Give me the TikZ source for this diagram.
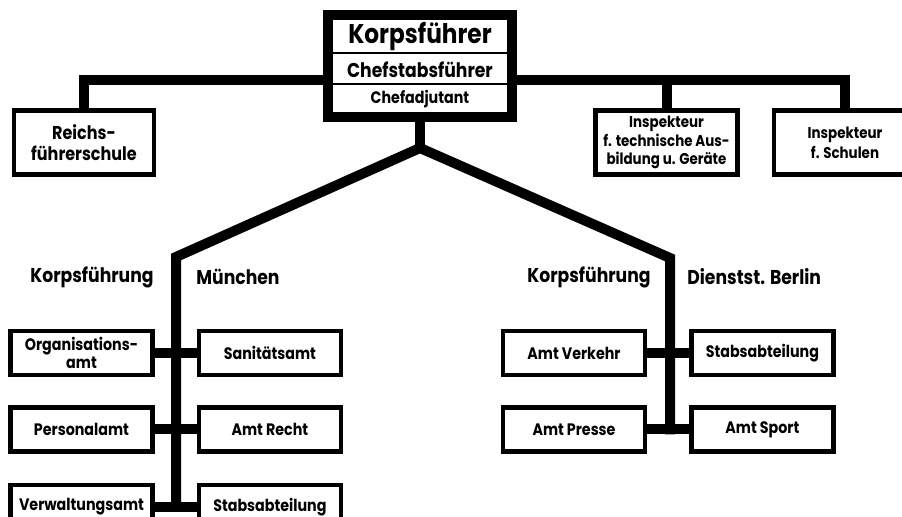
\documentclass[tikz,border=0pt]{standalone}
\usepackage{fontspec}
\newfontfamily\chartfont{Poppins}[FakeStretch=0.86]
\usetikzlibrary{
  backgrounds,
  calc,
  positioning
}
\tikzset{
  every picture/.style = {line join=miter},
  every node/.style = {font=\chartfont\bfseries\fontsize{8.3}{9}\selectfont, align=center, inner sep=1pt},
  office/.style = {
    draw=black,
    fill=white,
    line width=2.2pt,
    minimum width=71pt,
    minimum height=22pt,
    inner sep=0pt
  },
  office tall/.style = {office, minimum height=32pt},
  chief box/.style = {
    draw=black,
    fill=white,
    line width=5pt,
    minimum width=92pt,
    minimum height=51pt
  },
  chief rank/.style = {font=\chartfont\bfseries\fontsize{#1}{#1}\selectfont, inner sep=0pt},
  seat label/.style = {font=\chartfont\bfseries\fontsize{10}{12}\selectfont},
  trunk/.style = {draw=black, line width=5pt, line cap=rect},
  divider/.style = {draw=black, line width=1pt},
}

\begin{document}
\begin{tikzpicture}[x=0.5pt,y=-0.5pt]
  \clip (0,0) rectangle (902,517);

  % top of the chart
  \node[chief box] (korps) at (420,66) {};
  \node[chief rank=13.5] (kf) at (420,37) {Korpsführer};
  \node[chief rank=10] (csf) at (420,70) {Chefstabsführer};
  \node[chief rank=8.3] (cadj) at (420,99) {Chefadjutant};
  \path ($(kf)!0.5!(csf)$) coordinate (cut1);
  \path ($(csf)!0.5!(cadj)$) coordinate (cut2);
  \draw[divider] (korps.west|-cut1) -- (korps.east|-cut1);
  \draw[divider] (korps.west|-cut2) -- (korps.east|-cut2);

  \node[office tall, minimum width=70pt, font=\chartfont\bfseries\fontsize{9.3}{10.5}\selectfont] (reichs) at (84,142.5) {Reichs-\\führerschule};
  \node[office tall, font=\chartfont\bfseries\fontsize{7.8}{9.2}\selectfont] (insptech) at (666.5,142.5) {Inspekteur\\f. technische Aus-\\bildung u. Geräte};
  \node[office tall, font=\chartfont\bfseries\fontsize{7.8}{10}\selectfont] (inspschul) at (845,142.5) {Inspekteur\\f. Schulen};
  \coordinate (hbar) at (420,80);
  \coordinate (fork) at (420,148);

  % Muenchen
  \node[seat label, anchor=east] (kfmuc) at (156,277) {Korpsführung};
  \node[seat label, anchor=west] (muc) at (194,277) {München};
  \node[office] (orga) at (81.5,353) {Organisations-\\amt};
  \node[office, right=21pt of orga] (sani) {Sanitätsamt};
  \node[office, below=14pt of orga] (pers) {Personalamt};
  \node[office, right=21pt of pers] (recht) {Amt Recht};
  \node[office, below=14.5pt of pers] (verw) {Verwaltungsamt};
  \node[office, right=21pt of verw] (stabmuc) {Stabsabteilung};
  \coordinate (mucbend) at (176,257);

  % Berlin
  \node[seat label, anchor=east] (kfber) at (653,277) {Korpsführung};
  \node[seat label, anchor=west] (ber) at (685,277) {Dienstst. Berlin};
  \node[office] (verk) at (574,353) {Amt Verkehr};
  \node[office, right=21pt of verk] (stabber) {Stabsabteilung};
  \node[office, below=14pt of verk] (presse) {Amt Presse};
  \node[office, right=21pt of presse] (sport) {Amt Sport};
  \coordinate (berbend) at (670,258);

  \begin{scope}[on background layer]
    \draw[trunk] (reichs.north) |- (hbar) -| (inspschul.north);
    \draw[trunk] (insptech.north) -- (insptech.north|-hbar);
    \draw[trunk, line cap=butt] (korps.south) -- (fork);
    \draw[trunk] (fork) -- (mucbend) -- (mucbend|-verw.east);
    \draw[trunk] (fork) -- (berbend) -- (berbend|-presse.east);
    \draw[trunk] (orga) -- (sani);
    \draw[trunk] (pers) -- (recht);
    \draw[trunk] (verw) -- (stabmuc);
    \draw[trunk] (verk) -- (stabber);
    \draw[trunk] (presse) -- (sport);
  \end{scope}
\end{tikzpicture}
\end{document}
